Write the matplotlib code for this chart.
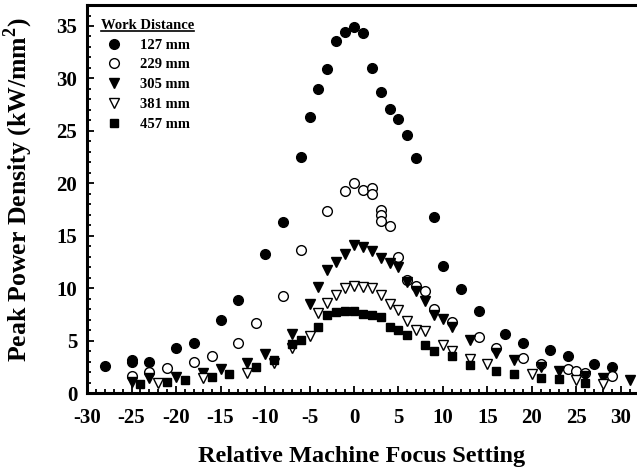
import matplotlib
matplotlib.use("Agg")
import matplotlib.pyplot as plt
from matplotlib.lines import Line2D
from matplotlib.ticker import MultipleLocator

plt.rcParams['font.family'] = ['Liberation Serif', 'DejaVu Serif']
plt.rcParams['font.weight'] = 'bold'
plt.rcParams['mathtext.fontset'] = 'custom'
plt.rcParams['mathtext.rm'] = 'Liberation Serif:bold'
plt.rcParams['mathtext.bf'] = 'Liberation Serif:bold'

# peak power density vs focus setting, one series per work distance
focus_127 = [-28, -25, -25, -23, -20, -18, -15, -13, -10, -8, -6, -5, -4, -3, -2, -1, 0,
             1, 2, 3, 4, 5, 6, 7, 9, 10, 12, 14, 17, 19, 22, 24, 27, 29]
pd_127 = [2.6, 3.2, 3.0, 3.0, 4.3, 4.8, 7.0, 8.9, 13.3, 16.3, 22.5, 26.3, 29.0, 30.9, 33.6, 34.4, 34.9,
          34.3, 31.0, 28.7, 27.1, 26.1, 24.6, 22.4, 16.8, 12.1, 9.9, 7.8, 5.6, 4.8, 4.1, 3.5, 2.8, 2.5]

focus_229 = [-25, -23, -21, -18, -16, -13, -11, -8, -6, -3, -1, 0, 1, 2, 2, 3, 3, 3,
             4, 5, 6, 7, 8, 9, 11, 14, 16, 19, 21, 24, 25, 26, 29]
pd_229 = [1.65, 2.0, 2.4, 3.0, 3.5, 4.8, 6.7, 9.3, 13.6, 17.4, 19.3, 20.0, 19.4, 19.6, 19.0, 17.5, 17.0, 16.4,
          15.9, 13.0, 10.8, 10.2, 9.7, 8.0, 6.8, 5.3, 4.3, 3.3, 2.8, 2.3, 2.1, 1.9, 1.6]

focus_305 = [-25, -23, -20, -17, -15, -12, -10, -7, -5, -4, -3, -2, -1, 0, 1, 2, 3, 4,
             5, 6, 7, 8, 9, 10, 11, 13, 16, 18, 21, 23, 26, 28, 31]
pd_305 = [1.1, 1.4, 1.55, 1.9, 2.25, 2.85, 3.7, 5.65, 8.45, 10.1, 11.75, 12.45, 13.3, 14.1, 13.9, 13.5, 12.85, 12.4,
          12.0, 10.6, 9.7, 8.8, 7.45, 7.1, 6.3, 5.1, 3.85, 3.15, 2.45, 2.1, 1.6, 1.4, 1.2]

focus_381 = [-22, -17, -12, -9, -7, -5, -4, -3, -2, -1, 0, 1, 2, 3, 4, 5, 6, 7, 8,
             10, 11, 13, 15, 20, 25, 28]
pd_381 = [0.95, 1.4, 1.95, 2.85, 4.25, 5.45, 7.6, 8.55, 9.35, 10.0, 10.2, 10.15, 10.0, 9.35, 8.5, 7.9, 6.9, 6.0, 5.9,
          4.6, 4.05, 3.25, 2.8, 1.8, 1.2, 0.9]

focus_457 = [-24, -21, -19, -16, -14, -11, -9, -7, -6, -4, -3, -2, -1, 0, 1, 2, 3, 4, 5, 6,
             8, 9, 11, 13, 16, 18, 21, 23, 26]
pd_457 = [0.9, 1.05, 1.2, 1.5, 1.8, 2.5, 3.15, 4.65, 5.05, 6.3, 7.45, 7.7, 7.8, 7.8, 7.55, 7.4, 7.3, 6.3, 6.0, 5.5,
          4.6, 4.05, 3.5, 2.7, 2.1, 1.8, 1.4, 1.3, 1.0]

labels = ['127 mm', '229 mm', '305 mm', '381 mm', '457 mm']

fig = plt.figure(figsize=(6.37, 4.73), dpi=100)
ax = fig.add_axes([0.1366, 0.169, 0.8634, 0.8204])

ms = 7
ax.plot(focus_127, pd_127, 'o', ms=ms, mfc='black', mec='black', mew=1, label=labels[0])
ax.plot(focus_229, pd_229, 'o', ms=ms, mfc='white', mec='black', mew=1, label=labels[1])
ax.plot(focus_305, pd_305, 'v', ms=ms, mfc='black', mec='black', mew=1, label=labels[2])
ax.plot(focus_381, pd_381, 'v', ms=ms, mfc='white', mec='black', mew=1, label=labels[3])
ax.plot(focus_457, pd_457, 's', ms=6, mfc='black', mec='black', mew=1, label=labels[4])

ax.set_xlim(-30, 31.8)
ax.set_ylim(0, 37)
ax.xaxis.set_minor_locator(MultipleLocator(1))
ax.yaxis.set_major_locator(MultipleLocator(5))
ax.yaxis.set_minor_locator(MultipleLocator(1))
ax.set_xticks(range(-30, 31, 5))
ax.set_xticklabels([str(v) for v in range(-30, 31, 5)])

ax.tick_params(which='both', direction='in', top=False, right=False, width=1.3)
ax.tick_params(which='major', length=5)
ax.tick_params(which='minor', length=3)
ax.tick_params(axis='x', which='major', pad=11, labelsize=15)
ax.tick_params(axis='y', which='major', pad=7, labelsize=15)
for s in ['left', 'bottom', 'top']:
    ax.spines[s].set_linewidth(2.2)
ax.spines['right'].set_visible(False)

ax.set_xlabel('Relative Machine Focus Setting', fontsize=17.5, fontweight='bold', labelpad=13)
ax.set_ylabel(r'Peak Power Density (kW/mm$^{\mathbf{2}}$)', fontsize=18.5, fontweight='bold')
ax.yaxis.set_label_coords(-0.094, 0.525)

leg = ax.legend(loc='upper left', frameon=False, numpoints=1, fontsize=10.5,
                title='Work Distance', title_fontproperties={'weight': 'bold', 'size': 10.5},
                alignment='left', handlelength=1.8, handletextpad=0.85, labelspacing=0.45,
                borderaxespad=0.1, borderpad=0.85)

# underline the legend title
fig.canvas.draw()
bb = leg.get_title().get_window_extent(fig.canvas.get_renderer())
inv = fig.transFigure.inverted()
(x0, y0), (x1, _) = inv.transform([(bb.x0, bb.y0 + 1), (bb.x1, bb.y0 + 1)])
fig.add_artist(Line2D([x0, x1], [y0, y0], transform=fig.transFigure, color='black', lw=1.2))

fig.savefig('out.png', dpi=100)
